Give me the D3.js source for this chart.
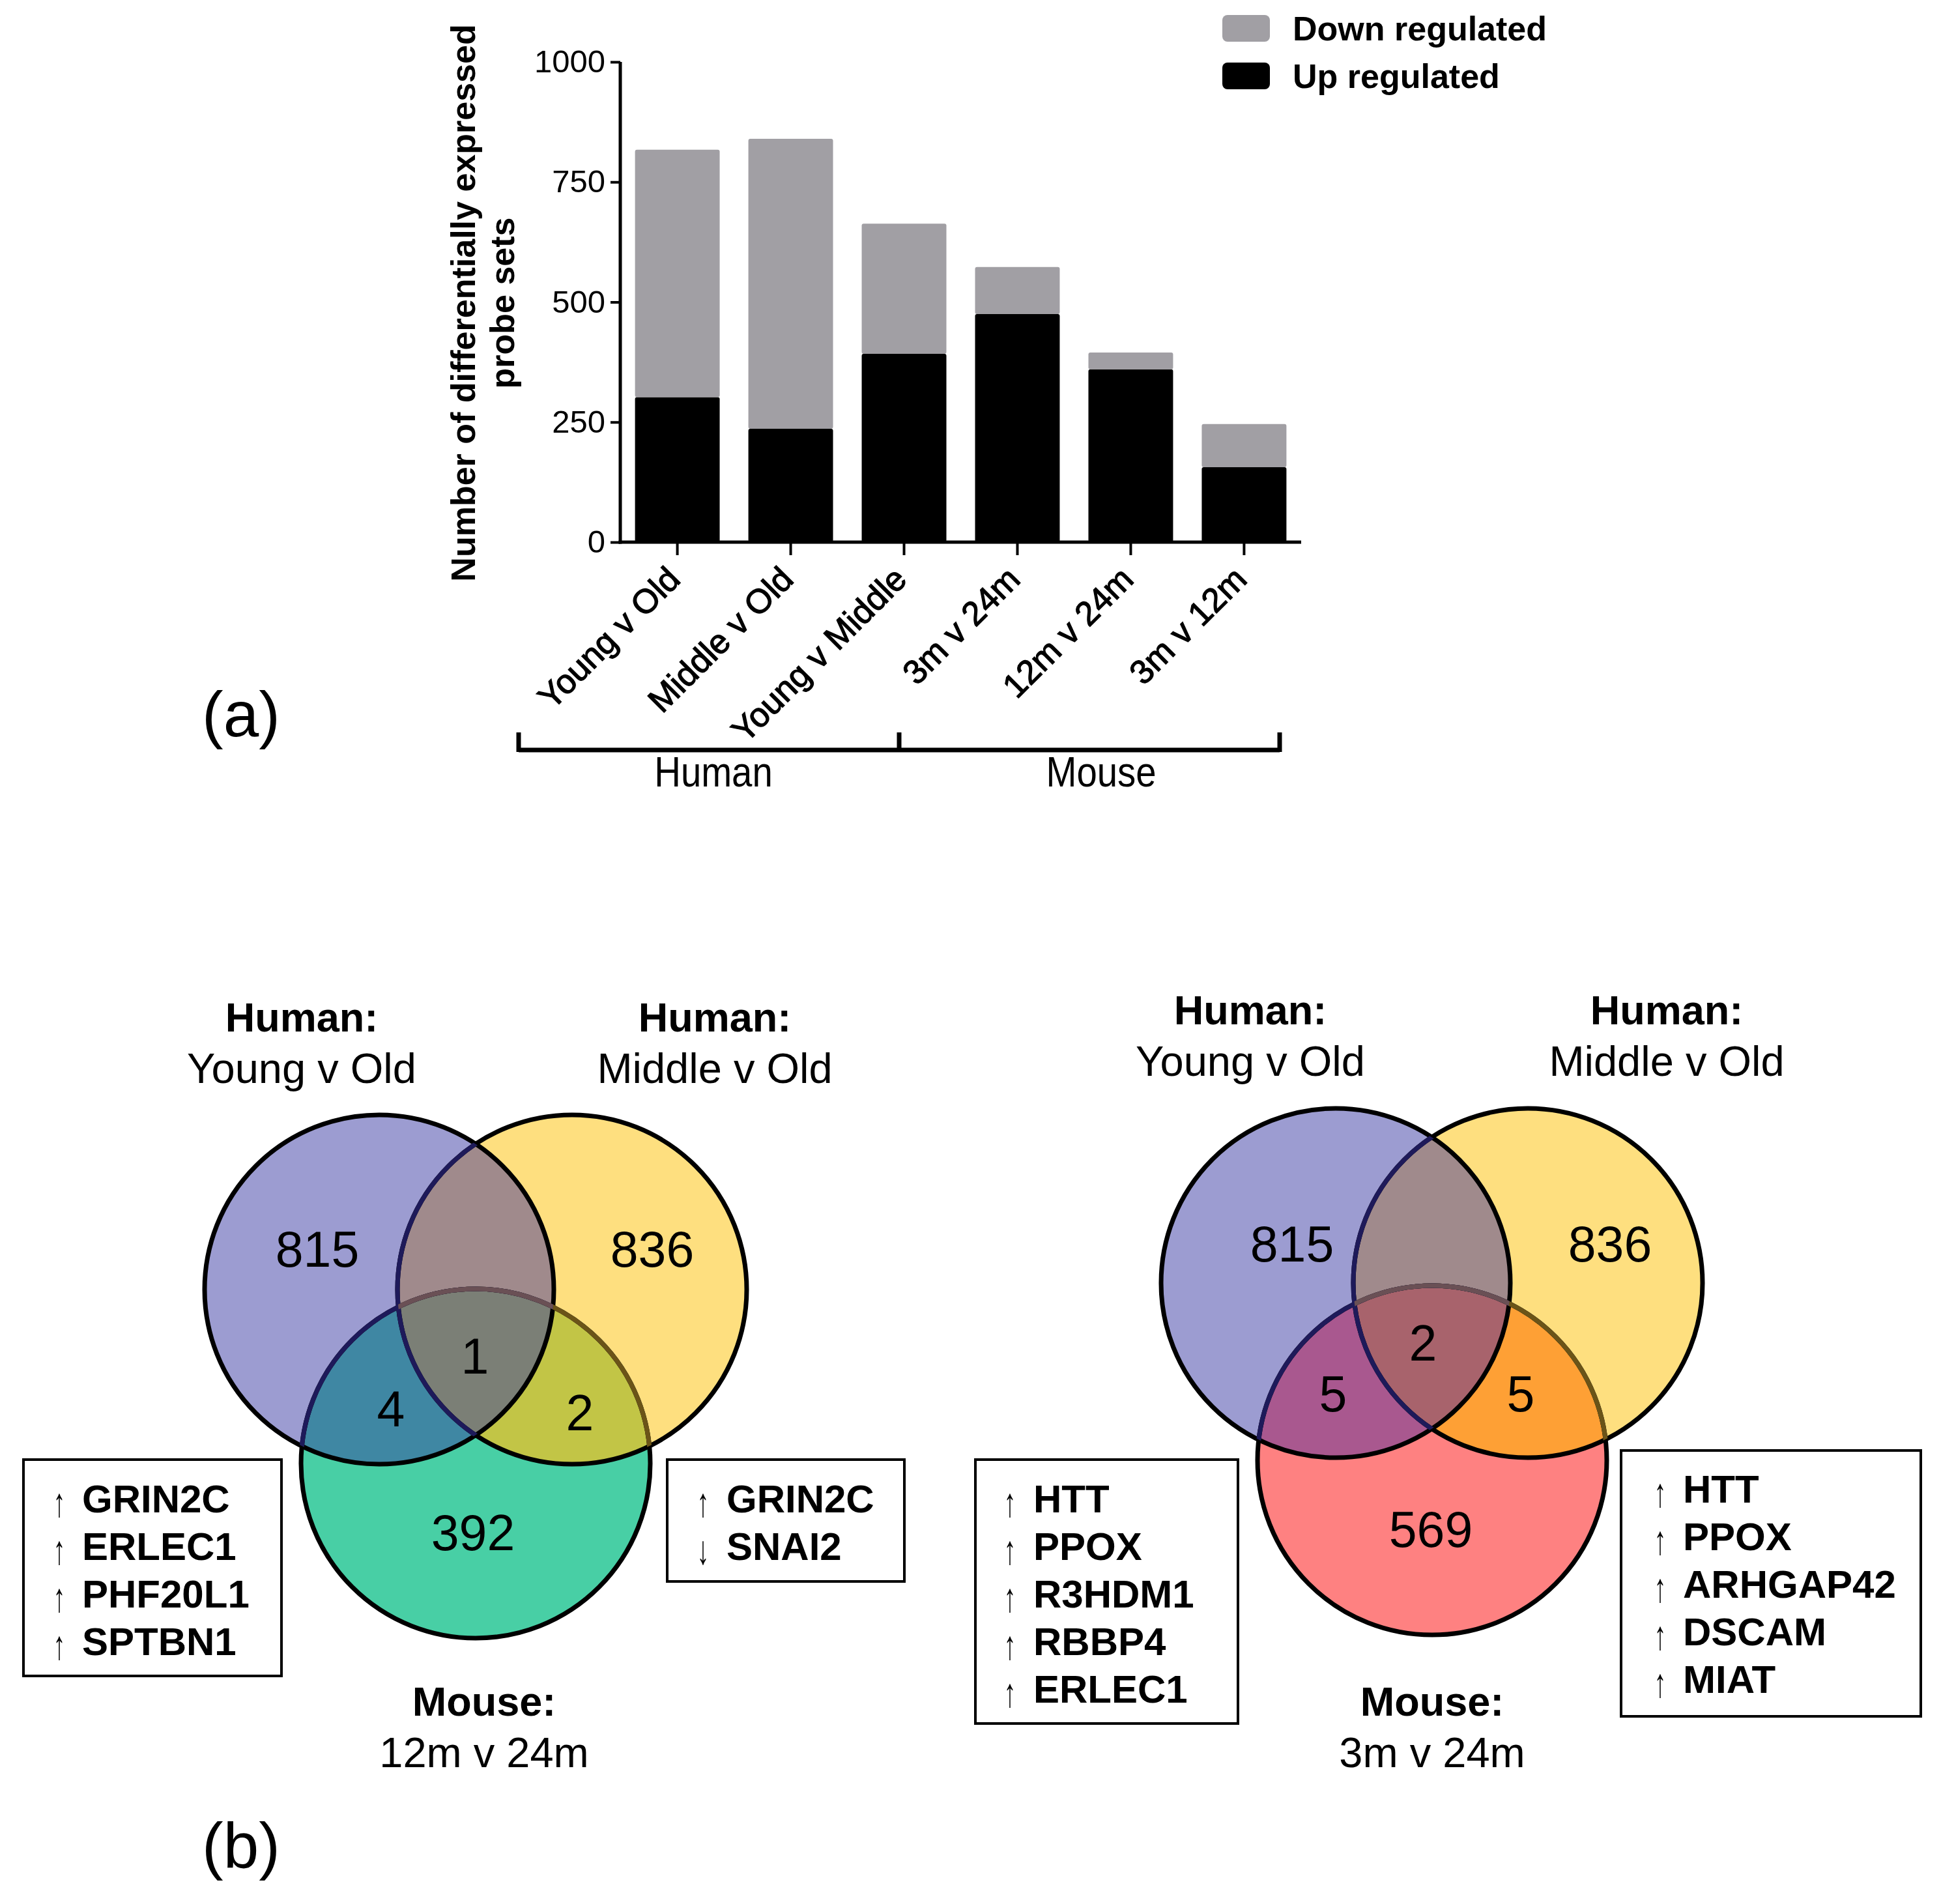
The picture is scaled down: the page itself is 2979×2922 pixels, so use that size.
<!DOCTYPE html>
<html>
<head>
<meta charset="utf-8">
<script src="https://cdn.jsdelivr.net/npm/d3@7"></script>
<style>
  body { margin: 0; background: #fff; }
  text { font-family: "Liberation Sans", Arial, sans-serif; }
</style>
</head>
<body>
<div id="chart"></div>
<script>
// ---- data (a) ----
const categories = ['Young v Old', 'Middle v Old', 'Young v Middle', '3m v 24m', '12m v 24m', '3m v 12m'];
const upRegulated = [302, 236, 392, 475, 360, 156];
const downRegulated = [515, 604, 271, 98, 35, 90];
const yTicks = [0, 250, 500, 750, 1000];
const speciesGroups = ['Human', 'Mouse'];
const legendLabels = ['Down regulated', 'Up regulated'];

// ---- data (b) ----
const vennRegions = ['A', 'B', 'C', 'AC', 'BC', 'ABC'];
const leftTitles = [['Human:', 'Young v Old'], ['Human:', 'Middle v Old'], ['Mouse:', '12m v 24m']];
const leftCounts = [815, 836, 392, 4, 2, 1];
const leftGenesAC = [['↑', 'GRIN2C'], ['↑', 'ERLEC1'], ['↑', 'PHF20L1'], ['↑', 'SPTBN1']];
const leftGenesBC = [['↑', 'GRIN2C'], ['↓', 'SNAI2']];
const rightTitles = [['Human:', 'Young v Old'], ['Human:', 'Middle v Old'], ['Mouse:', '3m v 24m']];
const rightCounts = [815, 836, 569, 5, 5, 2];
const rightGenesAC = [['↑', 'HTT'], ['↑', 'PPOX'], ['↑', 'R3HDM1'], ['↑', 'RBBP4'], ['↑', 'ERLEC1']];
const rightGenesBC = [['↑', 'HTT'], ['↑', 'PPOX'], ['↑', 'ARHGAP42'], ['↑', 'DSCAM'], ['↑', 'MIAT']];

const W = 2979, H = 2922;
const svg = d3.select('#chart').append('svg')
    .attr('width', W)
    .attr('height', H);
svg.append('rect').attr('width', W).attr('height', H).attr('fill', '#fff');

// ================= (a) stacked bars =================
let x = d3.scaleBand().domain(categories).range([952, 1997]).paddingInner(0.253).paddingOuter(0.13);
let y = d3.scaleLinear().domain([0, 1000]).range([832, 95]);

let stackData = categories.map((c, i) => ({cat: c, up: upRegulated[i], down: downRegulated[i]}));
let series = d3.stack().keys(['up', 'down'])(stackData);
let colors = {up: '#000000', down: '#a19fa4'};

let bars = svg.append('g');
bars.selectAll('g')
    .data(series)
    .enter()
    .append('g')
    .attr('fill', d => colors[d.key])
    .selectAll('rect')
    .data(d => d)
    .enter()
    .append('rect')
    .attr('x', d => x(d.data.cat))
    .attr('y', d => y(d[1]))
    .attr('width', x.bandwidth())
    .attr('height', d => y(d[0]) - y(d[1]))
    .attr('rx', 3);

let yAxis = d3.axisLeft(y).tickValues(yTicks).tickSize(15).tickPadding(8).tickFormat(d3.format('d'));
let gy = svg.append('g').attr('transform', 'translate(952,0)').call(yAxis);
gy.select('.domain').attr('stroke-width', 5).attr('d', 'M0,' + y(1000) + 'V' + (y(0) + 2.5));
gy.selectAll('.tick line').attr('stroke-width', 4);
gy.selectAll('.tick text').attr('font-size', 49).attr('fill', '#000')
    .attr('font-family', '"Liberation Sans", Arial, sans-serif');

let xAxis = d3.axisBottom(x).tickSize(20).tickSizeOuter(0);
let gx = svg.append('g').attr('transform', 'translate(0,' + y(0) + ')').call(xAxis);
gx.select('.domain').attr('stroke-width', 5).attr('d', 'M949.5,0H1997');
gx.selectAll('.tick line').attr('stroke-width', 4);
gx.selectAll('.tick text').remove();
gx.selectAll('.tick').append('text')
    .attr('text-anchor', 'end')
    .attr('transform', 'translate(7,60) rotate(-45)')
    .attr('font-size', 52)
    .attr('fill', '#000')
    .attr('stroke', '#000').attr('stroke-width', 1.3)
    .attr('font-family', '"Liberation Sans", Arial, sans-serif')
    .text(d => d);

// y title
svg.append('text')
    .attr('transform', 'translate(729,465) rotate(-90)')
    .attr('text-anchor', 'middle')
    .attr('font-size', 52).attr('font-weight', 'bold')
    .text('Number of differentially expressed');
svg.append('text')
    .attr('transform', 'translate(789,465) rotate(-90)')
    .attr('text-anchor', 'middle')
    .attr('font-size', 52).attr('font-weight', 'bold')
    .text('probe sets');

// legend
let legend = svg.append('g');
legendLabels.forEach((lab, i) => {
    legend.append('rect')
        .attr('x', 1876).attr('y', 23 + i * 73)
        .attr('width', 73).attr('height', 41).attr('rx', 8)
        .attr('fill', i === 0 ? colors.down : colors.up);
    legend.append('text')
        .attr('x', 1984).attr('y', 62 + i * 73)
        .attr('font-size', 52).attr('font-weight', 'bold')
        .text(lab);
});

// species bracket
let bx = [796, 1380, 1964];
let by = 1151;
let groupLabelX = [1095, 1690];
let bracket = svg.append('g').attr('stroke', '#000').attr('fill', 'none');
bracket.append('path').attr('stroke-width', 7)
    .attr('d', 'M' + bx[0] + ',' + by + 'H' + bx[2]);
bx.forEach(v => {
    bracket.append('path').attr('stroke-width', 7)
        .attr('d', 'M' + v + ',' + (by + 3) + 'V1124');
});
speciesGroups.forEach((g, i) => {
    svg.append('text')
        .attr('transform', 'translate(' + groupLabelX[i] + ',1207) scale(0.88,1)')
        .attr('text-anchor', 'middle')
        .attr('font-size', 64)
        .text(g);
});

svg.append('text').attr('x', 310).attr('y', 1130).attr('font-size', 98).text('(a)');
svg.append('text').attr('x', 310).attr('y', 2866).attr('font-size', 98).text('(b)');

// ================= (b) venn diagrams =================
function drawVenn(cfg) {
    let g = svg.append('g');
    let defs = g.append('defs');
    let r = cfg.r;
    ['A', 'B', 'C'].forEach(k => {
        defs.append('clipPath').attr('id', cfg.id + k)
            .append('circle').attr('cx', cfg.c[k][0]).attr('cy', cfg.c[k][1]).attr('r', r);
    });
    let circ = (sel, k) => sel.append('circle')
        .attr('cx', cfg.c[k][0]).attr('cy', cfg.c[k][1]).attr('r', r);
    let clipped = (keys) => {
        let s = g;
        keys.forEach(k => { s = s.append('g').attr('clip-path', 'url(#' + cfg.id + k + ')'); });
        return s;
    };

    circ(g, 'A').attr('fill', cfg.col.A);
    circ(g, 'B').attr('fill', cfg.col.B);
    circ(g, 'C').attr('fill', cfg.col.C);
    circ(clipped(['A']), 'B').attr('fill', cfg.col.AB);
    circ(clipped(['A']), 'C').attr('fill', cfg.col.AC);
    circ(clipped(['B']), 'C').attr('fill', cfg.col.BC);
    circ(clipped(['A', 'B']), 'C').attr('fill', cfg.col.ABC);

    let sw = 7;
    let st = (sel, k, color) => circ(sel, k).attr('fill', 'none').attr('stroke', color).attr('stroke-width', sw);
    st(g, 'A', '#000');
    st(g, 'B', '#000');
    st(g, 'C', '#000');
    st(clipped(['A']), 'B', '#1e1a5a');
    st(clipped(['B']), 'C', cfg.col.cInB);
    st(clipped(['A']), 'C', '#1e1a5a');
    st(clipped(['A', 'B']), 'C', '#6a5055');

    // counts
    vennRegions.forEach((reg, i) => {
        g.append('text')
            .attr('x', cfg.pos[reg][0]).attr('y', cfg.pos[reg][1])
            .attr('dy', '0.35em')
            .attr('text-anchor', 'middle')
            .attr('font-size', 77)
            .text(cfg.counts[i]);
    });

    // titles
    cfg.titles.forEach((t, i) => {
        let p = cfg.tpos[i];
        g.append('text').attr('x', p[0]).attr('y', p[1])
            .attr('text-anchor', 'middle').attr('font-size', 63).attr('font-weight', 'bold').text(t[0]);
        g.append('text').attr('x', p[0]).attr('y', p[1] + 79)
            .attr('text-anchor', 'middle').attr('font-size', 65).text(t[1]);
    });

    // gene boxes
    cfg.boxes.forEach(b => {
        g.append('rect').attr('x', b.x).attr('y', b.y).attr('width', b.w).attr('height', b.h)
            .attr('fill', '#fff').attr('stroke', '#000').attr('stroke-width', 4);
        b.genes.forEach((gene, j) => {
            let ay = b.base + 6 + j * 73;
            g.append('text').attr('x', 0).attr('y', 0)
                .attr('text-anchor', 'middle').attr('font-size', 62).attr('font-weight', 'normal')
                .attr('transform', 'translate(' + b.ax + ',' + ay + ') scale(0.6,1)')
                .text(gene[0]);
            g.append('text').attr('x', b.tx).attr('y', b.base + j * 73)
                .attr('font-size', 60).attr('font-weight', 'bold').text(gene[1]);
        });
    });
}

drawVenn({
    id: 'vl',
    r: 268,
    c: {A: [582, 1979], B: [878, 1979], C: [730, 2246]},
    col: {A: '#9c9cd1', B: '#fedf7f', C: '#48cfa5', AB: '#a08a8c', AC: '#3f87a3', BC: '#c2c546', ABC: '#7b7f76', cInB: '#6b5418'},
    counts: leftCounts,
    pos: {A: [487, 1917], B: [1001, 1917], C: [726, 2352], AC: [600, 2162], BC: [890, 2168], ABC: [729, 2081]},
    titles: leftTitles,
    tpos: [[463, 1583], [1097, 1583], [743, 2633]],
    boxes: [
        {x: 36, y: 2240, w: 396, h: 332, ax: 91, tx: 126, base: 2321, genes: leftGenesAC},
        {x: 1024, y: 2240, w: 364, h: 187, ax: 1079, tx: 1115, base: 2321, genes: leftGenesBC}
    ]
});

drawVenn({
    id: 'vr',
    r: 268,
    c: {A: [2050, 1969], B: [2345, 1969], C: [2198, 2241]},
    col: {A: '#9c9cd1', B: '#fedf7f', C: '#fe8181', AB: '#a08a8c', AC: '#a9588f', BC: '#fea035', ABC: '#a8636c', cInB: '#6b5418'},
    counts: rightCounts,
    pos: {A: [1983, 1909], B: [2471, 1909], C: [2196, 2347], AC: [2046, 2139], BC: [2334, 2139], ABC: [2184, 2061]},
    titles: rightTitles,
    tpos: [[1919, 1572], [2558, 1572], [2198, 2633]],
    boxes: [
        {x: 1497, y: 2240, w: 403, h: 405, ax: 1550, tx: 1586, base: 2321, genes: rightGenesAC},
        {x: 2488, y: 2226, w: 460, h: 408, ax: 2548, tx: 2583, base: 2306, genes: rightGenesBC}
    ]
});
</script>
</body>
</html>
